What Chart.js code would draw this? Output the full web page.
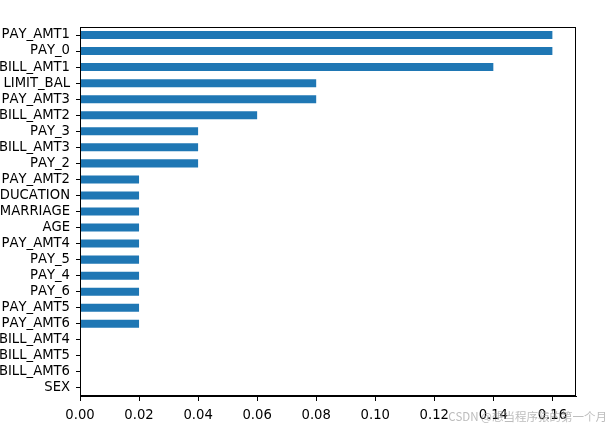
<!DOCTYPE html>
<html>
<head>
<meta charset="utf-8">
<script src="https://cdn.jsdelivr.net/npm/chart.js@4"></script>
<style>
html,body{margin:0;padding:0;background:#fff;}
#wrap{position:relative;width:613px;height:429px;}
canvas{display:block;}
</style>
</head>
<body>
<div id="wrap"><canvas id="c" width="613" height="429"></canvas></div>
<script>
const features = ["PAY_AMT1","PAY_0","BILL_AMT1","LIMIT_BAL","PAY_AMT3","BILL_AMT2","PAY_3","BILL_AMT3","PAY_2","PAY_AMT2","EDUCATION","MARRIAGE","AGE","PAY_AMT4","PAY_5","PAY_4","PAY_6","PAY_AMT5","PAY_AMT6","BILL_AMT4","BILL_AMT5","BILL_AMT6","SEX"];
const importance = [0.16,0.16,0.14,0.08,0.08,0.06,0.04,0.04,0.04,0.02,0.02,0.02,0.02,0.02,0.02,0.02,0.02,0.02,0.02,0,0,0,0];
const xTicks = [0.00,0.02,0.04,0.06,0.08,0.10,0.12,0.14,0.16];
const watermark = "CSDN @想当程序猿的第一个月";

const FONT = "'DejaVu Sans', sans-serif";
Chart.defaults.font.family = "'DejaVu Sans'";

const frame = {
  id: 'frame',
  beforeDraw(chart) {
    if ('fontKerning' in chart.ctx) chart.ctx.fontKerning = 'none';
  },
  afterDraw(chart) {
    const {ctx, chartArea: a} = chart;
    ctx.save();
    ctx.strokeStyle = '#000';
    ctx.lineWidth = 1;
    ctx.strokeRect(Math.round(a.left) + 0.5, Math.round(a.top) + 0.5, Math.round(a.right - a.left) - 1, Math.round(a.bottom - a.top) - 1);
    ctx.fillStyle = 'rgba(160,160,160,0.7)';
    ctx.font = "11.5px 'Noto Sans CJK SC', 'DejaVu Sans', sans-serif";
    ctx.textAlign = 'right';
    ctx.textBaseline = 'middle';
    ctx.fillText(watermark, 607, 417);
    ctx.restore();
  }
};

new Chart(document.getElementById('c'), {
  type: 'bar',
  data: {
    labels: features,
    datasets: [{
      data: importance,
      backgroundColor: '#1f77b4',
      borderWidth: 0,
      categoryPercentage: 1.0,
      barPercentage: 0.5
    }]
  },
  options: {
    indexAxis: 'y',
    responsive: false,
    animation: false,
    layout: {padding: {left: 0, right: 37, top: 27, bottom: 0}},
    plugins: {legend: {display: false}, tooltip: {enabled: false}},
    scales: {
      x: {
        type: 'linear',
        min: 0,
        max: 0.168,
        afterBuildTicks(scale) { scale.ticks = xTicks.map(v => ({value: v})); },
        afterFit(scale) { scale.height = 33; },
        grid: {drawOnChartArea: false, drawTicks: true, tickLength: 5, color: '#000', tickWidth: 1},
        border: {display: true, color: '#000', width: 1},
        ticks: {
          color: '#000',
          padding: 7,
          font: {size: 13.2, family: FONT},
          maxRotation: 0,
          callback: v => Number(v).toFixed(2)
        }
      },
      y: {
        type: 'category',
        offset: true,
        afterFit(scale) { scale.width = 80; },
        grid: {drawOnChartArea: false, drawTicks: true, tickLength: 4, color: '#000', tickWidth: 1, offset: false},
        border: {display: true, color: '#000', width: 1},
        ticks: {
          color: '#000',
          padding: 6,
          autoSkip: false,
          font: {size: 13.2, family: FONT}
        }
      }
    }
  },
  plugins: [frame]
});
</script>
</body>
</html>
